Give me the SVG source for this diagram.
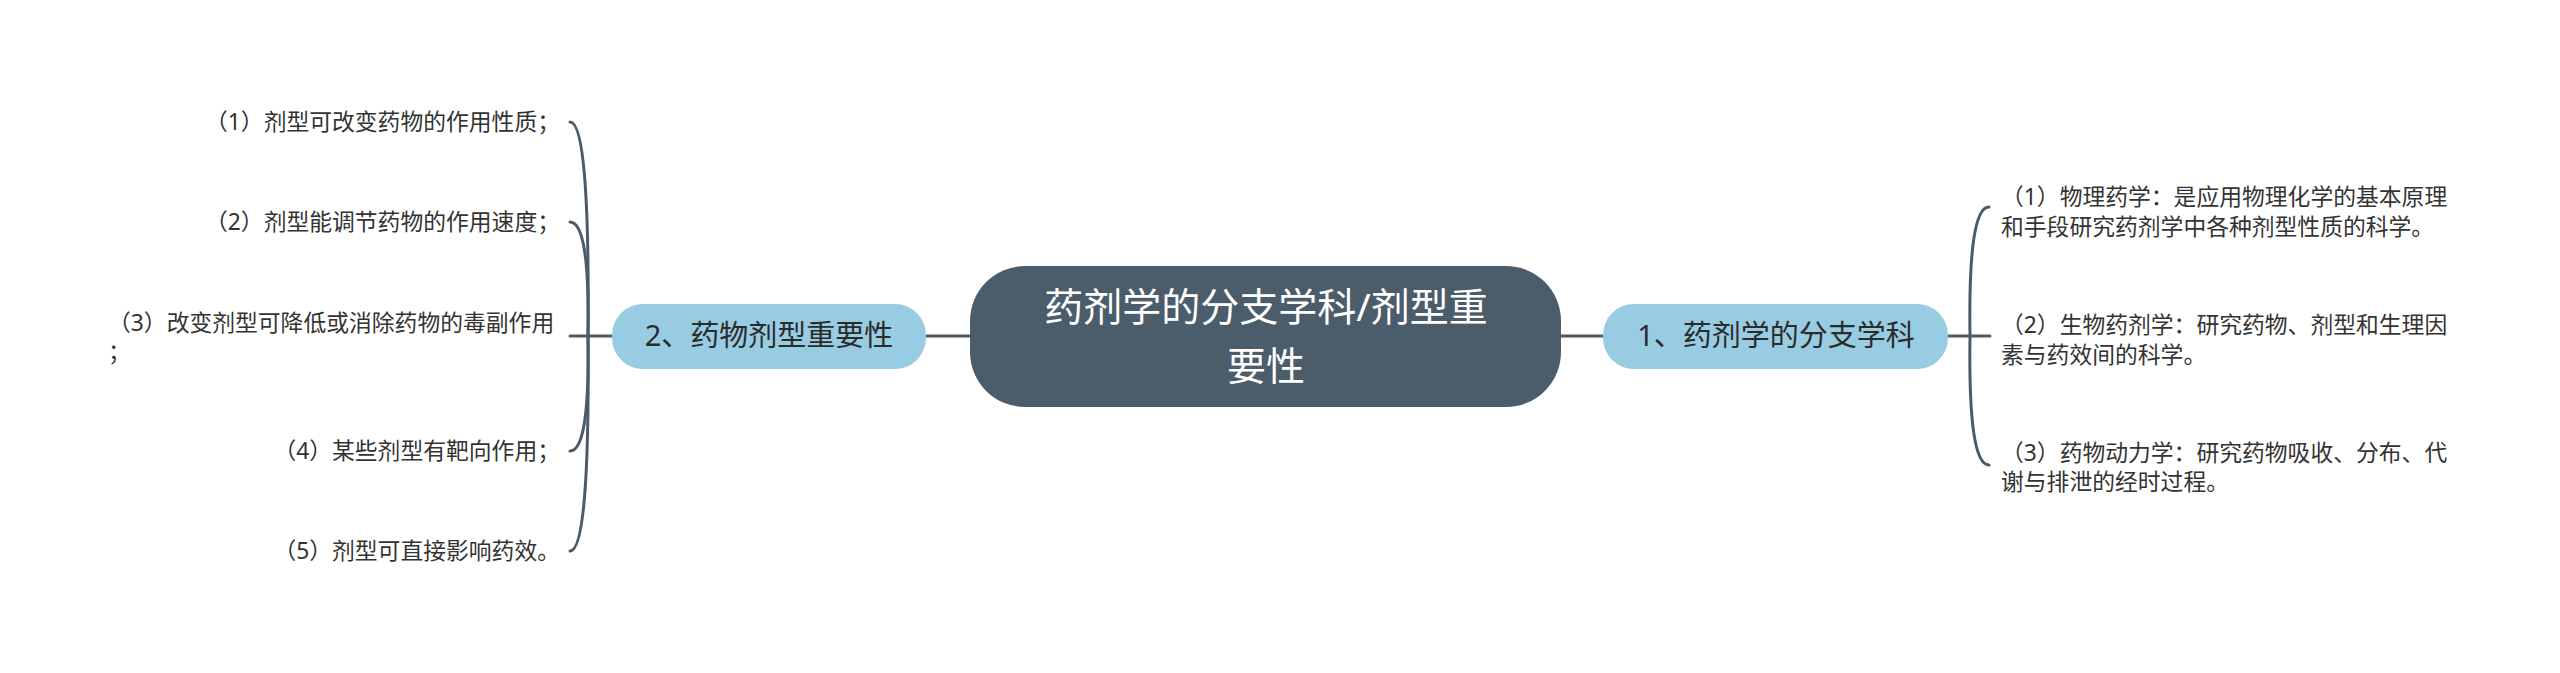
<svg xmlns="http://www.w3.org/2000/svg" width="2560" height="673" viewBox="0 0 2560 673">
<style>
text{font-family:"Noto Sans","Noto Sans CJK SC",sans-serif;}
.leaf{font-size:22.8px;fill:#333333;}
.sub{font-size:29px;fill:#2b2b2b;text-anchor:middle;}
.root{font-size:39px;fill:#ffffff;text-anchor:middle;}
.conn{fill:none;stroke:#4b5b6a;stroke-width:3;stroke-linecap:round;}
</style>
<rect width="2560" height="673" fill="#ffffff"/>
<g id="connectors">
<path class="conn" d="M926 336 H970"/>
<path class="conn" d="M1561 336 H1603"/>
<path class="conn" d="M570 336 H612"/>
<path class="conn" d="M588 336 Q590 122 570 122"/>
<path class="conn" d="M588 336 Q590 222 570 222"/>
<path class="conn" d="M588 336 Q590 451 570 451"/>
<path class="conn" d="M588 336 Q590 551 570 551"/>
<path class="conn" d="M1948 336 H1990"/>
<path class="conn" d="M1970 336 Q1968 207 1989 207"/>
<path class="conn" d="M1970 336 Q1968 465 1989 465"/>
</g>
<g id="root">
<rect x="970" y="266" width="591" height="141" rx="55" ry="55" fill="#4b5c6b"/>
<text class="root" x="1266" y="321">药剂学的分支学科/剂型重</text>
<text class="root" x="1266" y="380">要性</text>
</g>
<g id="node-left">
<rect x="612" y="304" width="314" height="65" rx="31" ry="31" fill="#98cce3"/>
<text class="sub" x="769" y="346">2、药物剂型重要性</text>
</g>
<g id="node-right">
<rect x="1603" y="304" width="345" height="65" rx="31" ry="31" fill="#98cce3"/>
<text class="sub" x="1776" y="346">1、药剂学的分支学科</text>
</g>
<g id="leaf-l1"><text class="leaf" x="560" y="130" text-anchor="end">（1）剂型可改变药物的作用性质；</text></g>
<g id="leaf-l2"><text class="leaf" x="560" y="230" text-anchor="end">（2）剂型能调节药物的作用速度；</text></g>
<g id="leaf-l3"><text class="leaf" x="108" y="331">（3）改变剂型可降低或消除药物的毒副作用</text><text class="leaf" x="108" y="360">；</text></g>
<g id="leaf-l4"><text class="leaf" x="560" y="459" text-anchor="end">（4）某些剂型有靶向作用；</text></g>
<g id="leaf-l5"><text class="leaf" x="560" y="559" text-anchor="end">（5）剂型可直接影响药效。</text></g>
<g id="leaf-r1"><text class="leaf" x="2001" y="205">（1）物理药学：是应用物理化学的基本原理</text><text class="leaf" x="2001" y="235">和手段研究药剂学中各种剂型性质的科学。</text></g>
<g id="leaf-r2"><text class="leaf" x="2001" y="333">（2）生物药剂学：研究药物、剂型和生理因</text><text class="leaf" x="2001" y="363">素与药效间的科学。</text></g>
<g id="leaf-r3"><text class="leaf" x="2001" y="461">（3）药物动力学：研究药物吸收、分布、代</text><text class="leaf" x="2001" y="490">谢与排泄的经时过程。</text></g>
</svg>
